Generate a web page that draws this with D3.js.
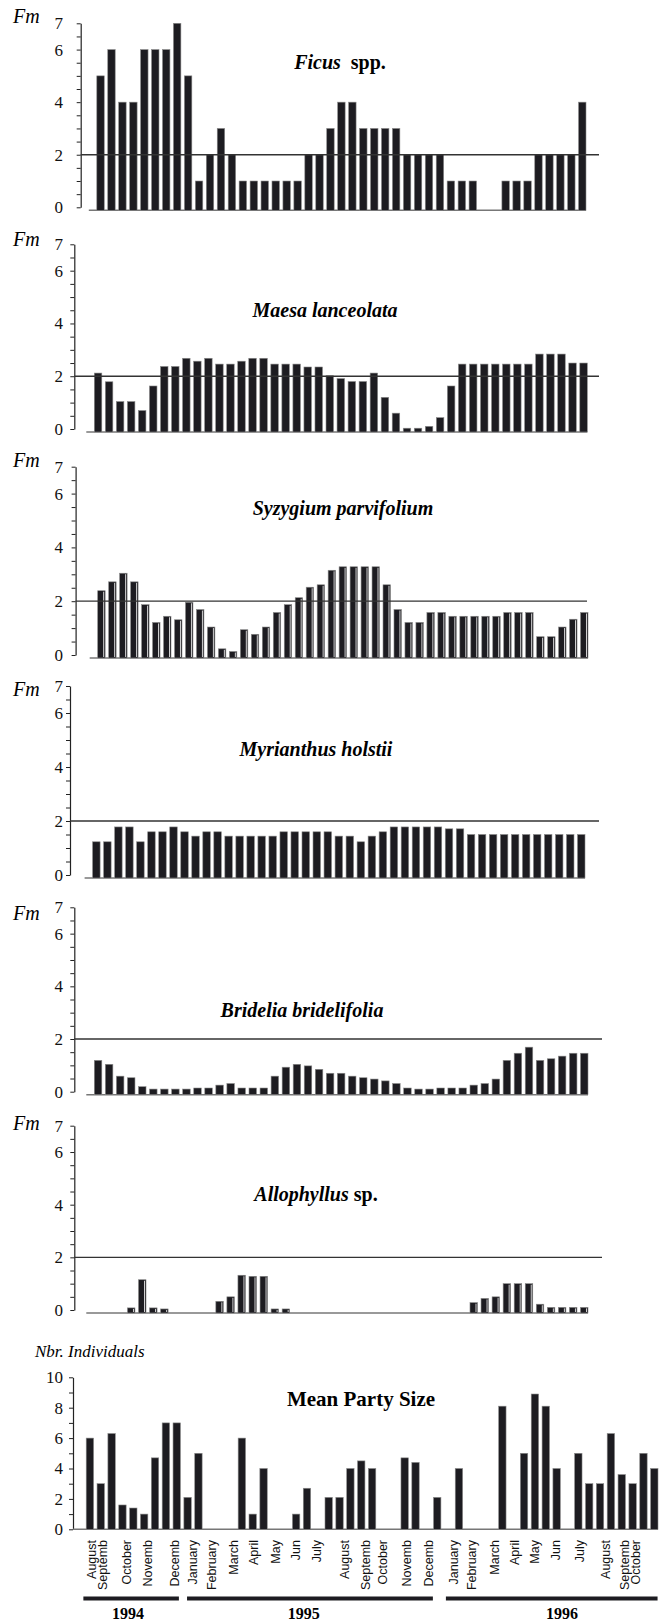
<!DOCTYPE html>
<html>
<head>
<meta charset="utf-8">
<script src="https://cdnjs.cloudflare.com/ajax/libs/d3/7.8.5/d3.min.js"></script>
<style>
  body { margin: 0; background: #fff; }
</style>
</head>
<body>
<div id="chart"></div>
<script>

// FRUIT AVAILABILITY (Fm) - 45 SAMPLES PER SPECIES

var ficus = [5,6,4,4,6,6,6,7,5,1,2,3,2,1,1,1,1,1,1,2,2,3,4,4,3,3,3,3,2,2,2,2,1,1,1,0,0,1,1,1,2,2,2,2,4]

var maesa = [2.12,1.79,1.04,1.04,0.7,1.63,2.37,2.37,2.68,2.57,2.68,2.46,2.46,2.57,2.68,2.68,2.46,2.46,2.46,2.35,
             2.35,2.02,1.91,1.8,1.8,2.12,1.2,0.6,0.03,0.03,0.1,0.43,1.63,2.46,2.46,2.46,2.46,2.46,2.46,2.46,
             2.84,2.84,2.84,2.5,2.5]

var syzygium = [2.39,2.72,3.04,2.72,1.87,1.21,1.44,1.31,1.96,1.69,1.04,0.23,0.13,0.94,0.77,1.04,1.58,1.87,2.13,2.52,
                2.61,3.15,3.28,3.28,3.28,3.28,2.61,1.69,1.21,1.21,1.58,1.58,1.44,1.44,1.44,1.44,1.44,1.58,1.58,1.58,
                0.68,0.68,1.04,1.33,1.58]

var myrianthus = [1.23,1.23,1.78,1.78,1.23,1.6,1.6,1.78,1.6,1.44,1.6,1.6,1.44,1.44,1.44,1.44,1.44,1.6,1.6,1.6,
                  1.6,1.6,1.44,1.44,1.23,1.44,1.6,1.78,1.78,1.78,1.78,1.78,1.71,1.71,1.5,1.5,1.5,1.5,1.5,1.5,
                  1.5,1.5,1.5,1.5,1.5]

var bridelia = [1.19,1.04,0.59,0.53,0.19,0.1,0.1,0.1,0.1,0.14,0.14,0.25,0.31,0.14,0.14,0.14,0.59,0.93,1.04,0.98,
                0.85,0.7,0.7,0.59,0.53,0.48,0.41,0.31,0.14,0.1,0.1,0.14,0.14,0.14,0.25,0.31,0.48,1.19,1.46,1.69,
                1.19,1.25,1.35,1.46,1.46]

var allophyllus = [0,0,0,0.08,1.15,0.08,0.04,0,0,0,0,0.33,0.5,1.32,1.28,1.28,0.04,0.04,0,0,
                   0,0,0,0,0,0,0,0,0,0,0,0,0,0,0.28,0.44,0.5,1,1,1,
                   0.22,0.1,0.1,0.1,0.1]

// MEAN PARTY SIZE - 53 SAMPLES

var party = [6,3,6.3,1.6,1.4,1,4.7,7,7,2.1,5,0,0,0,6,1,4,0,0,1,
             2.7,0,2.1,2.1,4,4.5,4,0,0,4.7,4.4,0,2.1,0,4,0,0,0,8.1,0,
             5,8.9,8.1,4,0,5,3,3,6.3,3.6,3,5,4]

// TITLES

var speciesNames = ["Ficus", "Maesa lanceolata", "Syzygium parvifolium", "Myrianthus holstii", "Bridelia bridelifolia", "Allophyllus"]
var speciesSuffix = ["  spp.", "", "", "", "", " sp."]

// AXIS LABELS

var fmTicks = [0, 2, 4, 6, 7]
var partyTicks = [0, 2, 4, 6, 8, 10]

var months = ["August","Septemb","October","Novemb","Decemb",
              "January","February","March","April","May","Jun","July","August","Septemb","October","Novemb","Decemb",
              "January","February","March","April","May","Jun","July","August","Septemb","October"]
// sample index each month label sits under
var monthSlot = [0.2,1.2,3.4,5.3,7.8,9.5,11.2,13.2,15.1,17.1,19,20.9,23.5,25.4,27,29.2,31.2,33.5,35.2,37.3,39.1,41,42.9,45.1,47.5,49.3,50.3]

var years = ["1994", "1995", "1996"]
var yearStart = [-0.6, 8.95, 32.8]
var yearEnd = [8.2, 31.6, 52.3]
var yearMid = [3.5, 19.7, 43.5]


var serif = "'Liberation Serif', 'Times New Roman', serif"
var sans = "'Liberation Sans', Arial, sans-serif"

var svg = d3.select("#chart").append("svg")
    .attr("width", 667)
    .attr("height", 1624)

// LAYOUT OF THE SIX Fm PANELS

var layout = [
  {y7: 23.3,   y0: 207.3,  axisX: 80.7, x0: 96.8, x1: 586,   refEnd: 599, titleX: 340, titleY: 69,   fmY: 23,   hi: false},
  {y7: 244.3,  y0: 429,    axisX: 74.3, x0: 94.3, x1: 587.3, refEnd: 599, titleX: 325, titleY: 317,  fmY: 246,  hi: false},
  {y7: 466.7,  y0: 655,    axisX: 75.6, x0: 97.7, x1: 588,   refEnd: 587, titleX: 343, titleY: 515,  fmY: 467,  hi: true},
  {y7: 686,    y0: 875,    axisX: 70,   x0: 92.6, x1: 585,   refEnd: 599, titleX: 316, titleY: 756,  fmY: 696,  hi: false},
  {y7: 907.3,  y0: 1091.7, axisX: 74.3, x0: 94.3, x1: 588,   refEnd: 602, titleX: 302, titleY: 1017, fmY: 920,  hi: false},
  {y7: 1125.7, y0: 1310,   axisX: 74.3, x0: 94.3, x1: 588,   refEnd: 602, titleX: 316, titleY: 1201, fmY: 1130, hi: true}
]

var series = [ficus, maesa, syzygium, myrianthus, bridelia, allophyllus]


function drawBars(g, values, x, y, base, hi) {
  var bw = x.bandwidth()
  var data = values.map(function (v, i) { return {i: i, v: v} }).filter(function (d) { return d.v > 0 })

  g.selectAll("rect.bar")
    .data(data)
    .enter()
    .append("rect")
      .attr("class", "bar")
      .attr("x", function (d) { return x(d.i) })
      .attr("y", function (d) { return y(d.v) })
      .attr("width", bw)
      .attr("height", function (d) { return base - y(d.v) })
      .attr("fill", "#1d1c21")
      .attr("stroke", "#8a8a8a")
      .attr("stroke-width", 0.6)

  if (hi) {
    // white edge on the right side of the bar
    g.selectAll("line.hi")
      .data(data.filter(function (d) { return base - y(d.v) > 3 }))
      .enter()
      .append("line")
        .attr("class", "hi")
        .attr("x1", function (d) { return x(d.i) + bw - 1.5 })
        .attr("x2", function (d) { return x(d.i) + bw - 1.5 })
        .attr("y1", function (d) { return y(d.v) + 1 })
        .attr("y2", base - 1)
        .attr("stroke", "#fff")
        .attr("stroke-width", 0.8)
  }
}


function styleAxis(a, size) {
  a.select(".domain").attr("stroke", "#222").attr("stroke-width", 1.2)
  a.selectAll(".tick line").attr("stroke", "#222").attr("stroke-width", 1)
  a.selectAll(".tick text")
    .attr("fill", "#111")
    .style("font-family", serif)
    .style("font-size", size)
}


// FM PANELS

layout.forEach(function (p, k) {
  var values = series[k]
  var g = svg.append("g")

  var y = d3.scaleLinear().domain([0, 7]).range([p.y0, p.y7])
  var x = d3.scaleBand()
      .domain(d3.range(values.length))
      .range([p.x0, p.x1])
      .paddingInner(0.32)
      .paddingOuter(0)

  var base = y(0) + 3

  // Y AXIS
  var ax = g.append("g")
      .attr("transform", "translate(" + p.axisX + ",0)")
      .call(d3.axisLeft(y)
        .tickValues(d3.range(0, 7.01, 0.5))
        .tickSize(4)
        .tickSizeOuter(0)
        .tickPadding(p.axisX - 67)
        .tickFormat(function (d) { return fmTicks.indexOf(d) > -1 ? d : "" }))
  styleAxis(ax, "17px")

  // baseline
  g.append("line")
      .attr("x1", p.x0 - 8)
      .attr("x2", p.x1)
      .attr("y1", base)
      .attr("y2", base)
      .attr("stroke", "#777")
      .attr("stroke-width", 1.5)

  drawBars(g, values, x, y, base, p.hi)

  // line at Fm = 2
  g.append("line")
      .attr("x1", p.axisX)
      .attr("x2", p.refEnd)
      .attr("y1", y(2))
      .attr("y2", y(2))
      .attr("stroke", "#333")
      .attr("stroke-width", 1.3)

  g.append("text")
      .attr("x", 13)
      .attr("y", p.fmY)
      .style("font-family", serif)
      .style("font-style", "italic")
      .style("font-size", "20px")
      .text("Fm")

  var t = g.append("text")
      .attr("x", p.titleX)
      .attr("y", p.titleY)
      .attr("text-anchor", "middle")
      .style("font-family", serif)
      .style("font-weight", "bold")
      .style("font-size", "20px")
      .attr("xml:space", "preserve")
  t.append("tspan").style("font-style", "italic").text(speciesNames[k])
  t.append("tspan").text(speciesSuffix[k])
})


// MEAN PARTY SIZE PANEL

var pp = {y10: 1377.3, y0: 1529.3, axisX: 73, x0: 86.2, x1: 658}

var y7 = d3.scaleLinear().domain([0, 10]).range([pp.y0, pp.y10])
var x7 = d3.scaleBand()
    .domain(d3.range(party.length))
    .range([pp.x0, pp.x1])
    .paddingInner(0.32)
    .paddingOuter(0)

// centre of sample i, used for month and year labels
var xMid = d3.scaleLinear()
    .domain([0, party.length - 1])
    .range([x7(0) + x7.bandwidth() / 2, x7(party.length - 1) + x7.bandwidth() / 2])

var gp = svg.append("g")

var ax7 = gp.append("g")
    .attr("transform", "translate(" + pp.axisX + ",0)")
    .call(d3.axisLeft(y7)
      .tickValues(d3.range(0, 11, 1))
      .tickSize(4)
      .tickSizeOuter(0)
      .tickPadding(pp.axisX - 67)
      .tickFormat(function (d) { return partyTicks.indexOf(d) > -1 ? d : "" }))
styleAxis(ax7, "17px")

gp.append("line")
    .attr("x1", pp.axisX)
    .attr("x2", pp.x1)
    .attr("y1", y7(0))
    .attr("y2", y7(0))
    .attr("stroke", "#777")
    .attr("stroke-width", 1.5)

drawBars(gp, party, x7, y7, y7(0), false)

gp.append("text")
    .attr("x", 35)
    .attr("y", 1356.5)
    .style("font-family", serif)
    .style("font-style", "italic")
    .style("font-size", "17px")
    .text("Nbr. Individuals")

gp.append("text")
    .attr("x", 361)
    .attr("y", 1406)
    .attr("text-anchor", "middle")
    .style("font-family", serif)
    .style("font-weight", "bold")
    .style("font-size", "21px")
    .text("Mean Party Size")

// month labels, rotated
gp.selectAll("text.month")
    .data(months)
    .enter()
    .append("text")
      .attr("class", "month")
      .attr("transform", function (d, i) { return "translate(" + xMid(monthSlot[i]) + ",1540) rotate(-90)" })
      .attr("dy", "0.35em")
      .attr("text-anchor", "end")
      .style("font-family", sans)
      .style("font-size", "12.5px")
      .attr("fill", "#111")
      .text(function (d) { return d })

// year bars
gp.selectAll("line.year")
    .data(years)
    .enter()
    .append("line")
      .attr("class", "year")
      .attr("x1", function (d, i) { return xMid(yearStart[i]) })
      .attr("x2", function (d, i) { return xMid(yearEnd[i]) })
      .attr("y1", 1598.5)
      .attr("y2", 1598.5)
      .attr("stroke", "#1d1c21")
      .attr("stroke-width", 4)

gp.selectAll("text.year")
    .data(years)
    .enter()
    .append("text")
      .attr("class", "year")
      .attr("x", function (d, i) { return xMid(yearMid[i]) })
      .attr("y", 1619)
      .attr("text-anchor", "middle")
      .style("font-family", serif)
      .style("font-weight", "bold")
      .style("font-size", "16px")
      .text(function (d) { return d })

</script>
</body>
</html>
